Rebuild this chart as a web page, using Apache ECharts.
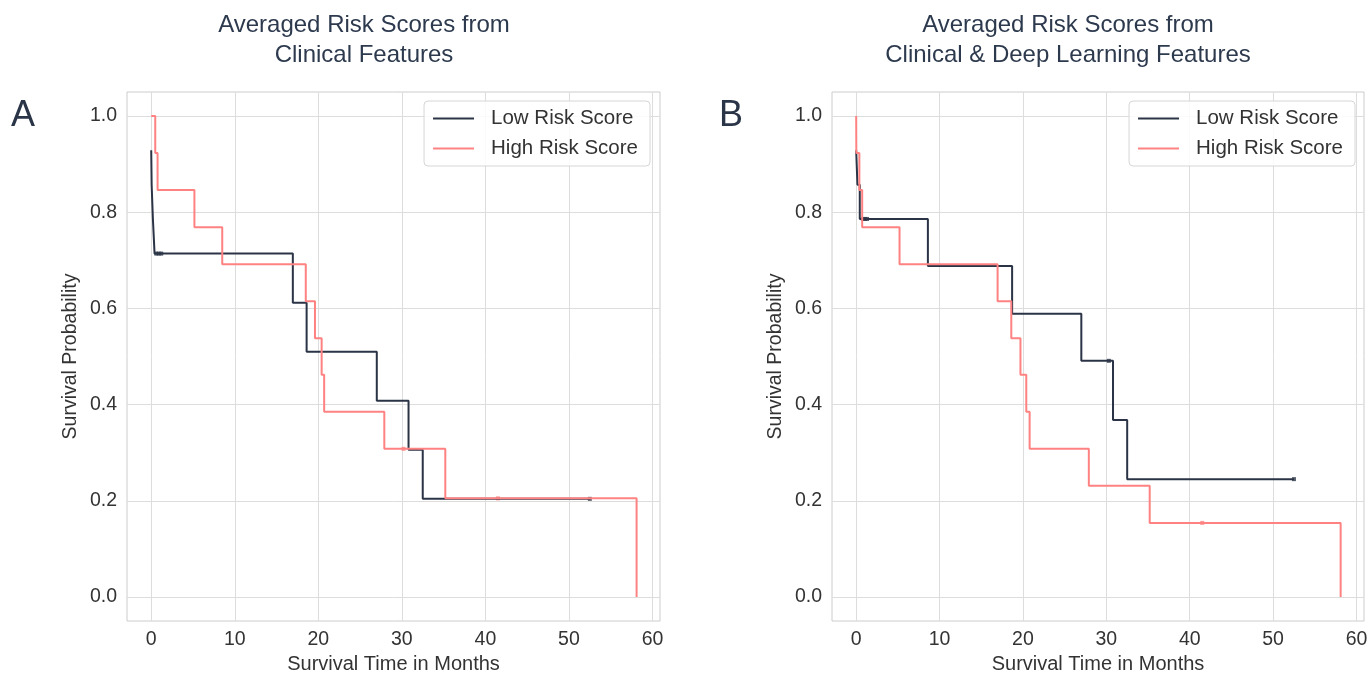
<!DOCTYPE html>
<html><head><meta charset="utf-8">
<script src="https://cdn.jsdelivr.net/npm/echarts@6/dist/echarts.min.js"></script>
<style>html,body{margin:0;padding:0;background:#fff}#c{width:1370px;height:675px}</style>
</head><body><div id="c"></div><script>
// ---- tick labels ----
const xTicks = [0, 10, 20, 30, 40, 50, 60];
const yTicks = [0, 0.2, 0.4, 0.6, 0.8, 1.0];
const seriesNames = ['Low Risk Score', 'High Risk Score'];
const panelTitles = ['Averaged Risk Scores from\nClinical Features', 'Averaged Risk Scores from\nClinical & Deep Learning Features'];
const panelLetters = ['A', 'B'];

// ---- Panel A: Clinical features ----
const aLowTime = [0, 0.05, 0.2, 0.4, 16.95, 18.6, 27.0, 30.8, 32.5, 52.5];
const aLowSurv = [0.929, 0.857, 0.786, 0.714, 0.612, 0.510, 0.408, 0.306, 0.204, 0.204];
const aLowCensTime = [0.6, 0.9, 1.2, 52.5];
const aLowCensSurv = [0.714, 0.714, 0.714, 0.204];
const aHighTime = [0, 0.48, 0.76, 5.17, 8.5, 18.5, 19.6, 20.4, 20.7, 27.9, 35.2, 58.1];
const aHighSurv = [1.0, 0.923, 0.846, 0.769, 0.692, 0.615, 0.538, 0.462, 0.385, 0.308, 0.205, 0.0];
const aHighCensTime = [30.2, 41.5];
const aHighCensSurv = [0.308, 0.205];

// ---- Panel B: Clinical & deep learning features ----
const bLowTime = [0, 0.15, 0.43, 8.6, 18.7, 27.0, 30.8, 32.5, 52.5];
const bLowSurv = [0.929, 0.857, 0.786, 0.688, 0.589, 0.491, 0.368, 0.245, 0.245];
const bLowCensTime = [0.8, 1.05, 1.3, 30.3, 52.5];
const bLowCensSurv = [0.786, 0.786, 0.786, 0.491, 0.245];
const bHighTime = [0, 0.02, 0.38, 0.72, 5.2, 16.96, 18.6, 19.7, 20.4, 20.8, 27.9, 35.2, 58.1];
const bHighSurv = [1.0, 0.923, 0.846, 0.769, 0.692, 0.615, 0.538, 0.462, 0.385, 0.308, 0.231, 0.154, 0.0];
const bHighCensTime = [41.5];
const bHighCensSurv = [0.154];

const zip = (t, s) => t.map((v, i) => [v, s[i]]);
const LOW = '#2b3446', HIGH = '#ff8282';
const FONT = '"Liberation Sans", Arial, sans-serif';
const TXT = '#333333';

const gridPos = [{left: 127, top: 92, width: 533, height: 529}, {left: 832, top: 92, width: 532, height: 529}];

function xAxis(i) {
  return {
    gridIndex: i, type: 'value', min: -2.9, max: 60.9,
    name: 'Survival Time in Months', nameLocation: 'middle', nameGap: 33,
    nameTextStyle: {fontSize: 20, color: TXT, fontFamily: FONT},
    axisLine: {show: false},
    axisTick: {show: false, customValues: xTicks},
    axisLabel: {customValues: xTicks, fontSize: 19.5, color: TXT, fontFamily: FONT, margin: 9, formatter: v => String(Math.round(v))},
    splitLine: {show: true, lineStyle: {color: '#dddddd', width: 1}}
  };
}
function yAxis(i) {
  return {
    gridIndex: i, type: 'value', min: -0.05, max: 1.05,
    name: 'Survival Probability', nameLocation: 'middle', nameGap: 46, nameRotate: 90,
    nameTextStyle: {fontSize: 19.5, color: TXT, fontFamily: FONT},
    axisLine: {show: false},
    axisTick: {show: false, customValues: yTicks},
    axisLabel: {customValues: yTicks, fontSize: 19.5, color: TXT, fontFamily: FONT, margin: 10, formatter: v => v.toFixed(1)},
    splitLine: {show: true, lineStyle: {color: '#dddddd', width: 1}}
  };
}
function lineSeries(name, i, t, s, color) {
  return {type: 'line', name, xAxisIndex: i, yAxisIndex: i, step: 'end', data: zip(t, s),
    symbol: 'none', lineStyle: {color, width: 2}, itemStyle: {color}, animation: false, silent: true};
}
function censSeries(name, i, t, s, color) {
  return {type: 'scatter', name, xAxisIndex: i, yAxisIndex: i, data: zip(t, s),
    symbol: 'rect', symbolSize: 4, itemStyle: {color}, animation: false, silent: true};
}
function legend(right) {
  return {
    data: seriesNames, orient: 'vertical', right, top: 101, icon: 'rect',
    itemWidth: 41, itemHeight: 2, itemGap: 9,
    padding: [7, 12, 7, 9],
    borderColor: '#d6d6d6', borderWidth: 1, borderRadius: 4, backgroundColor: 'rgba(255,255,255,0.85)',
    textStyle: {fontSize: 20.5, lineHeight: 20, color: TXT, fontFamily: FONT, padding: [0, 0, 0, 12]},
    selectedMode: false
  };
}

const option = {
  backgroundColor: '#ffffff',
  animation: false,
  grid: gridPos.map(g => Object.assign({show: true, borderColor: '#cccccc', borderWidth: 1, backgroundColor: '#fff', containLabel: false, outerBoundsMode: 'none'}, g)),
  xAxis: [xAxis(0), xAxis(1)],
  yAxis: [yAxis(0), yAxis(1)],
  legend: [legend(720), legend(15)],
  series: [
    lineSeries(seriesNames[0], 0, aLowTime, aLowSurv, LOW),
    censSeries('censA0', 0, aLowCensTime, aLowCensSurv, LOW),
    lineSeries(seriesNames[1], 0, aHighTime, aHighSurv, HIGH),
    censSeries('censA1', 0, aHighCensTime, aHighCensSurv, HIGH),
    lineSeries(seriesNames[0], 1, bLowTime, bLowSurv, LOW),
    censSeries('censB0', 1, bLowCensTime, bLowCensSurv, LOW),
    lineSeries(seriesNames[1], 1, bHighTime, bHighSurv, HIGH),
    censSeries('censB1', 1, bHighCensTime, bHighCensSurv, HIGH)
  ],
  graphic: [
    {type: 'text', x: 364, y: 10, style: {text: panelTitles[0], textAlign: 'center', fill: '#2d3a4e', font: '24px ' + FONT, lineHeight: 30}},
    {type: 'text', x: 1068, y: 10, style: {text: panelTitles[1], textAlign: 'center', fill: '#2d3a4e', font: '24px ' + FONT, lineHeight: 30}},
    {type: 'text', x: 11, y: 98, style: {text: panelLetters[0], fill: '#2b3548', font: '36px ' + FONT}},
    {type: 'text', x: 719, y: 98, style: {text: panelLetters[1], fill: '#2b3548', font: '36px ' + FONT}}
  ]
};
const chart = echarts.init(document.getElementById('c'), null, {renderer: 'canvas'});
chart.setOption(option);
</script></body></html>
